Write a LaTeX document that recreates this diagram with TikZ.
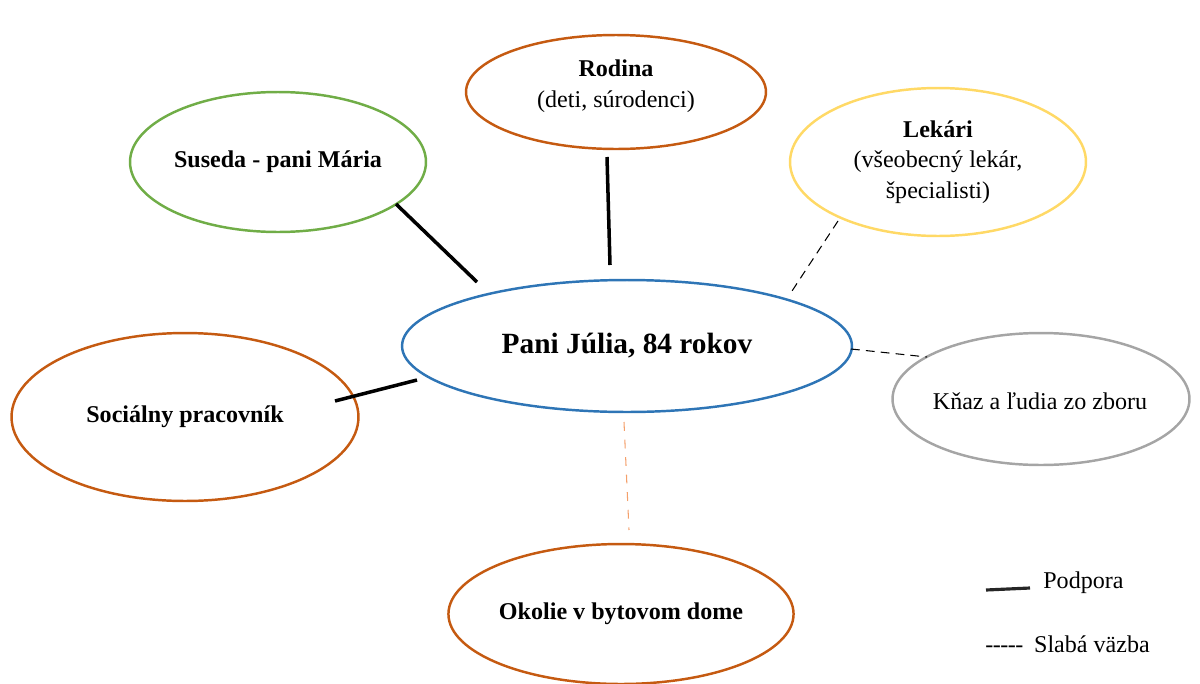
\documentclass[tikz,border=0pt]{standalone}
\usepackage{fontspec}
\setmainfont{Liberation Serif}
\usetikzlibrary{shapes.geometric}
\definecolor{cblue}{HTML}{2E75B6}
\definecolor{corange}{HTML}{C55A11}
\definecolor{cgreen}{HTML}{70AD47}
\definecolor{cyellow}{HTML}{FFD966}
\definecolor{cgray}{HTML}{A5A5A5}
\definecolor{clorange}{HTML}{F4A06B}
\tikzset{
  bubble/.style={ellipse, draw, line width=1.4pt, inner sep=0pt, align=center,
    text=black, font=\fontsize{13.7}{17.5}\selectfont},
  txt/.style={inner sep=0pt, align=center, text=black, font=\fontsize{13.7}{17.5}\selectfont},
  strong/.style={line width=2pt, black},
  weak/.style={line width=0.6pt, black, dash pattern=on 5pt off 3.5pt},
  weakorange/.style={line width=0.6pt, clorange, dash pattern=on 5pt off 5pt},
  legtext/.style={font=\fontsize{13.7}{15}\selectfont, anchor=west, inner sep=0pt}
}
\newcommand{\hy}{-\kern-0.3pt}
\begin{document}
\begin{tikzpicture}[x=0.02cm, y=-0.02cm]
\useasboundingbox (0,0) rectangle (1200,683);
\node[bubble, draw=cblue, minimum width=9cm, minimum height=2.64cm,
  font=\fontsize{16.7}{20}\selectfont\bfseries] (c) at (627,346) {Pani Júlia, 84 rokov};
\node[bubble, draw=corange, minimum width=6cm, minimum height=2.28cm] (rod) at (616,92) {};
\node[txt] (rodt) at (616,86) {\textbf{Rodina}\\(deti, súrodenci)};
\node[bubble, draw=cgreen, minimum width=5.92cm, minimum height=2.8cm] (sus) at (278,162)
  {\textbf{Suseda - pani Mária}};
\node[bubble, draw=cyellow, minimum width=5.92cm, minimum height=2.96cm] (lek) at (938,162)
  {\textbf{Lekári}\\(všeobecný lekár,\\špecialisti)};
\node[bubble, draw=cgray, minimum width=5.94cm, minimum height=2.64cm] (kn) at (1041,399) {};
\node[txt] (knt) at (1040,401) {Kňaz a ľudia zo zboru};
\node[bubble, draw=corange, minimum width=6.94cm, minimum height=3.36cm] (soc) at (185,417)
  {\textbf{Sociálny pracovník}};
\node[bubble, draw=corange, minimum width=6.86cm, minimum height=2.8cm] (oko) at (621,614)
  {\textbf{Okolie v bytovom dome}};
% connector end points
\coordinate (s1) at (396,204); \coordinate (s2) at (477,282);
\coordinate (r1) at (607,157); \coordinate (r2) at (610,265);
\coordinate (p1) at (335,401); \coordinate (p2) at (417,380);
\coordinate (l1) at (838,221); \coordinate (l2) at (792,291);
\coordinate (k1) at (851,349); \coordinate (k2) at (927,357);
\coordinate (o1) at (624,422); \coordinate (o2) at (629,530);
\draw[strong] (s1) -- (s2);
\draw[strong] (r1) -- (r2);
\draw[strong] (p1) -- (p2);
\draw[weak] (l1) -- (l2);
\draw[weak] (k1) -- (k2);
\draw[weakorange] (o1) -- (o2);
% legend
\coordinate (lg1) at (986,590); \coordinate (lg2) at (1030,588);
\draw[line width=1.8pt, black!85] (lg1) -- (lg2);
\node[legtext] (lp) at (1043,583) {Podpora};
\node[legtext] (ld) at (985,644) {\hy\hy\hy\hy-\hspace{0.45em}Slabá väzba};
\end{tikzpicture}
\end{document}
